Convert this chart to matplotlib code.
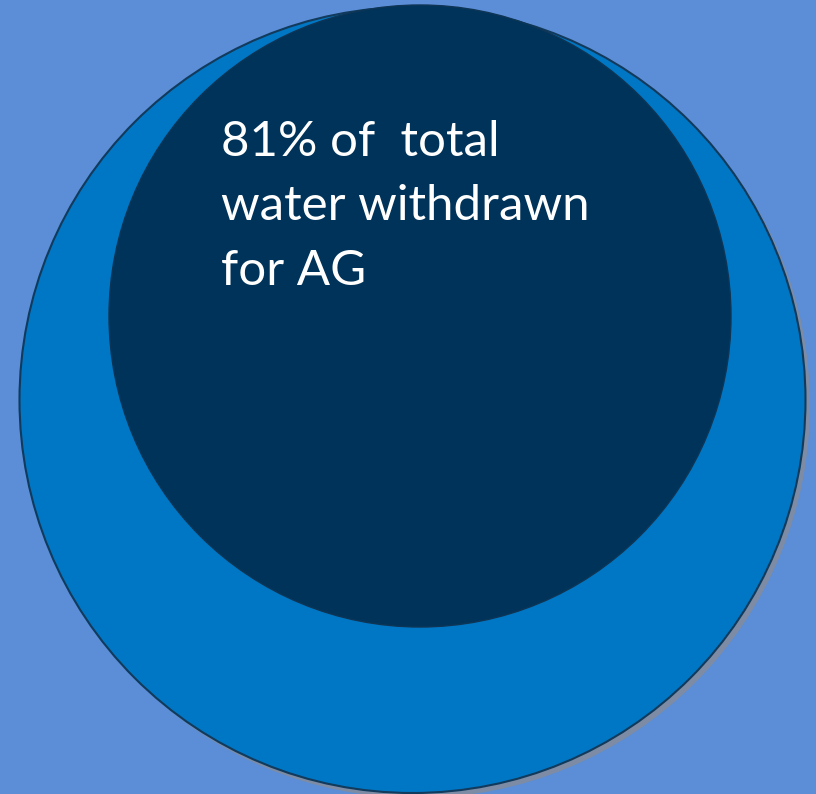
import matplotlib.pyplot as plt
from matplotlib.patches import Circle

# Datos
categorias = ['Total water withdrawn', 'Agriculture (AG)']
porcentajes = [100, 81]
lineas = [f"{porcentajes[1]}% of  total", "water withdrawn", "for AG"]

fig = plt.figure(figsize=(8.16, 7.94), dpi=100)
fig.patch.set_facecolor('#5B8ED6')
ax = fig.add_axes([0, 0, 1, 1])
ax.set_xlim(0, 816)
ax.set_ylim(794, 0)
ax.set_aspect('equal')
ax.axis('off')

# Sombra del circulo grande
ax.add_patch(Circle((417, 405), 393, facecolor='#7D8CA4', edgecolor='none', zorder=1))
# Circulo total
ax.add_patch(Circle((412.5, 400), 393, facecolor='#0077C4', edgecolor='#123A5C', lw=1.5, zorder=2))
# Circulo agricultura
ax.add_patch(Circle((420, 316), 311, facecolor='#003359', edgecolor='#0E3556', lw=1, zorder=3))

# Texto, una linea a la vez
for i, linea in enumerate(lineas):
    ax.text(221, 156 + i * 64.5, linea, color='white', fontsize=35.5, family='Lato',
            va='baseline', ha='left', zorder=4)

fig.savefig('out.png', dpi=100, facecolor=fig.get_facecolor())
